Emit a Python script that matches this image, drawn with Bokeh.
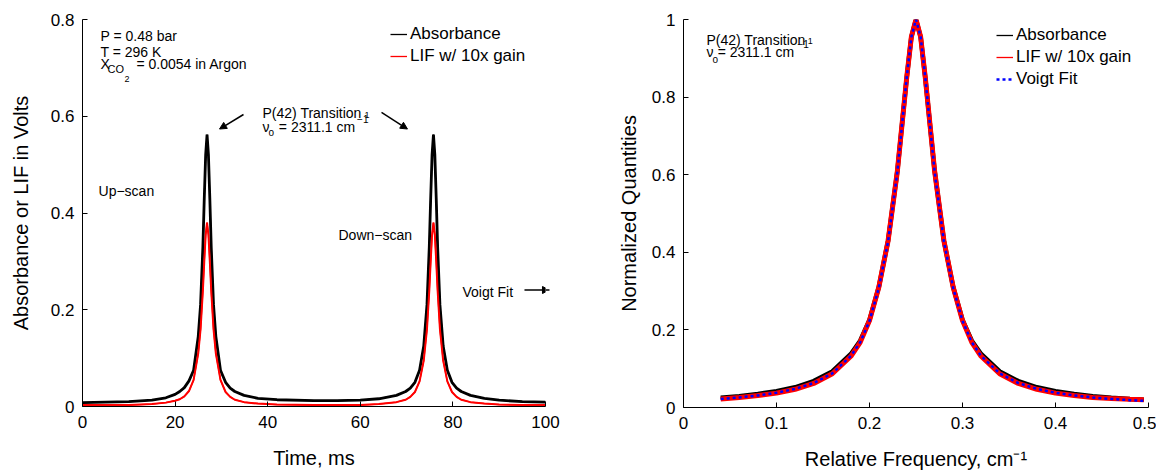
from bokeh.plotting import figure
from bokeh.models import (Range1d, FixedTicker, Label, Arrow, NormalHead, Legend,
                          LegendItem, CustomJSTickFormatter)
from bokeh.layouts import row
from bokeh.embed import file_html
from bokeh.resources import INLINE

FONT = "Liberation Sans"

# ---------------- Left panel data (time trace) ----------------
TIME_MS = [0, 5, 10, 15, 18, 20, 21, 22, 23, 24,
           25, 25.5, 26, 26.3, 26.6, 26.9, 27.2, 27.5, 27.8, 28.3,
           28.8, 29.8, 30.9, 31.9, 32.9, 34.9, 37.9, 42, 50, 55,
           60, 64, 67.8, 69.8, 70.8, 71.8, 72.8, 73.7, 74.4, 74.9,
           75.2, 75.5, 75.8, 76.1, 76.4, 76.7, 77.2, 77.9, 78.8, 79.8,
           80.8, 81.8, 83.8, 86.8, 90, 95, 100]
ABSORBANCE = [0.008, 0.009, 0.010, 0.013, 0.018, 0.025, 0.031, 0.039, 0.053, 0.075,
              0.145, 0.21, 0.33, 0.43, 0.52, 0.562, 0.52, 0.43, 0.33, 0.21,
              0.145, 0.075, 0.05, 0.038, 0.031, 0.023, 0.017, 0.014, 0.012, 0.012,
              0.013, 0.016, 0.023, 0.031, 0.038, 0.05, 0.075, 0.125, 0.21, 0.33,
              0.43, 0.52, 0.562, 0.52, 0.43, 0.33, 0.21, 0.125, 0.075, 0.05,
              0.038, 0.031, 0.023, 0.017, 0.013, 0.010, 0.009]
LIF_10X = [0.003, 0.003, 0.003, 0.005, 0.008, 0.012, 0.015, 0.021, 0.032, 0.055,
           0.11, 0.16, 0.24, 0.30, 0.355, 0.38, 0.355, 0.30, 0.24, 0.16,
           0.11, 0.055, 0.030, 0.020, 0.014, 0.009, 0.006, 0.004, 0.003, 0.003,
           0.003, 0.005, 0.009, 0.014, 0.020, 0.030, 0.052, 0.095, 0.16, 0.24,
           0.30, 0.355, 0.38, 0.355, 0.30, 0.24, 0.16, 0.095, 0.052, 0.030,
           0.020, 0.014, 0.009, 0.006, 0.004, 0.003, 0.003]

# ---------------- Right panel data (normalized) ----------------
REL_FREQ = [0.04, 0.06, 0.08, 0.10, 0.12, 0.14, 0.16, 0.18, 0.19, 0.20,
            0.21, 0.22, 0.23, 0.24, 0.245, 0.25, 0.255, 0.26, 0.27, 0.28,
            0.29, 0.30, 0.31, 0.32, 0.34, 0.36, 0.38, 0.40, 0.42, 0.44,
            0.46, 0.48, 0.495]
ABS_NORM = [0.025, 0.029, 0.035, 0.042, 0.052, 0.068, 0.093, 0.138, 0.172, 0.226,
            0.31, 0.43, 0.61, 0.85, 0.955, 1.0, 0.955, 0.85, 0.61, 0.43,
            0.31, 0.226, 0.172, 0.138, 0.093, 0.068, 0.052, 0.042, 0.035, 0.029,
            0.025, 0.022, 0.020]
LIF_NORM = [0.022, 0.026, 0.031, 0.037, 0.047, 0.062, 0.087, 0.132, 0.168, 0.224,
            0.31, 0.43, 0.61, 0.85, 0.955, 1.0, 0.955, 0.85, 0.61, 0.43,
            0.31, 0.224, 0.168, 0.132, 0.087, 0.062, 0.047, 0.037, 0.031, 0.026,
            0.023, 0.021, 0.020]
VOIGT_FIT = [0.022, 0.026, 0.031, 0.038, 0.048, 0.063, 0.088, 0.133, 0.168, 0.223,
             0.308, 0.428, 0.608, 0.85, 0.955, 1.0, 0.955, 0.85, 0.608, 0.428,
             0.308, 0.223, 0.168, 0.133, 0.088, 0.063, 0.048, 0.038, 0.031, 0.026,
             0.022, 0.019, 0.017]

LEFT_XTICKS = [0, 20, 40, 60, 80, 100]
LEFT_YTICKS = [0, 0.2, 0.4, 0.6, 0.8]
RIGHT_XTICKS = [0, 0.1, 0.2, 0.3, 0.4, 0.5]
RIGHT_YTICKS = [0, 0.2, 0.4, 0.6, 0.8, 1]

FMT = "return String(tick)"


def style(p, xticks, yticks, xlabel, ylabel, ystandoff):
    p.outline_line_color = None
    p.xgrid.visible = False
    p.ygrid.visible = False
    p.background_fill_color = "white"
    p.border_fill_color = "white"
    p.xaxis.ticker = FixedTicker(ticks=xticks)
    p.yaxis.ticker = FixedTicker(ticks=yticks)
    p.xaxis.axis_label = xlabel
    p.yaxis.axis_label = ylabel
    for ax in (p.xaxis[0], p.yaxis[0]):
        ax.formatter = CustomJSTickFormatter(code=FMT)
        ax.major_tick_in = 5
        ax.major_tick_out = 0
        ax.minor_tick_line_color = None
        ax.axis_line_color = "black"
        ax.major_tick_line_color = "black"
        ax.major_label_text_font = FONT
        ax.major_label_text_font_size = "17px"
        ax.major_label_text_color = "black"
        ax.axis_label_text_font = FONT
        ax.axis_label_text_font_size = "20px"
        ax.axis_label_text_font_style = "normal"
        ax.axis_label_text_color = "black"
    p.xaxis.major_label_standoff = 9
    p.xaxis.axis_label_standoff = 16
    p.yaxis.major_label_standoff = 8
    p.yaxis.axis_label_standoff = ystandoff


def txt(p, x, y, s, size="14px"):
    p.add_layout(Label(x=x, y=y, text=s, text_font=FONT, text_font_size=size,
                       text_baseline="alphabetic", text_align="left",
                       text_color="black"))


def arrow(p, x0, y0, x1, y1):
    p.add_layout(Arrow(end=NormalHead(size=7, fill_color="black", line_color="black"),
                       x_start=x0, y_start=y0, x_end=x1, y_end=y1,
                       line_color="black", line_width=1.5))


def legend(p, items, x, y):
    lg = Legend(items=items, location=(x, y), label_text_font=FONT,
                label_text_font_size="17px", label_text_color="black",
                glyph_width=17, glyph_height=22, label_height=22,
                label_standoff=3, spacing=0, padding=0, margin=0,
                border_line_color=None, background_fill_alpha=0)
    p.add_layout(lg)


# ---------------- Left figure ----------------
p1 = figure(frame_width=463, frame_height=387, x_range=Range1d(0, 100),
            y_range=Range1d(0, 0.8), output_backend="svg", toolbar_location=None,
            min_border_left=82, min_border_right=35, min_border_top=19,
            min_border_bottom=53)
style(p1, LEFT_XTICKS, LEFT_YTICKS, "Time, ms", "Absorbance or LIF in Volts", 16)
# thin copies (hidden beneath the thick traces) serve as legend glyphs
lk1 = p1.line(TIME_MS, ABSORBANCE, line_color="black", line_width=1.3)
lr1 = p1.line(TIME_MS, LIF_10X, line_color="#ff0000", line_width=1.3)
p1.line(TIME_MS, ABSORBANCE, line_color="black", line_width=2.8)
p1.line(TIME_MS, LIF_10X, line_color="#ff0000", line_width=2)

legend(p1, [LegendItem(label="Absorbance", renderers=[lk1]),
            LegendItem(label="LIF w/ 10x gain", renderers=[lr1])], 308, 339)

txt(p1, 3.89, 0.765, "P = 0.48 bar")
txt(p1, 3.89, 0.7318, "T = 296 K")
txt(p1, 3.89, 0.709, "X")
txt(p1, 5.4, 0.6987, "CO", "11px")
txt(p1, 9.07, 0.678, "2", "9px")
txt(p1, 11.66, 0.709, "= 0.0054 in Argon")
txt(p1, 38.88, 0.6057, "P(42) Transition")
txt(p1, 60.9, 0.6016, "1", "9px")
txt(p1, 38.88, 0.5788, "\u03bd")
txt(p1, 40.17, 0.5664, "o", "10px")
txt(p1, 42.4, 0.5788, "= 2311.1 cm")
txt(p1, 59.3, 0.5933, "\u22121", "10px")
txt(p1, 3.46, 0.4465, "Up\u2212scan")
txt(p1, 55.29, 0.3535, "Down\u2212scan")
txt(p1, 82.07, 0.2357, "Voigt Fit")
arrow(p1, 34.77, 0.6036, 29.59, 0.5736)
arrow(p1, 64.58, 0.6078, 70.19, 0.5736)
arrow(p1, 95.46, 0.2408, 100.86, 0.2408)

# ---------------- Right figure ----------------
p2 = figure(frame_width=465, frame_height=388, x_range=Range1d(0, 0.5),
            y_range=Range1d(0, 1), output_backend="svg", toolbar_location=None,
            min_border_left=103, min_border_right=8, min_border_top=19,
            min_border_bottom=52)
style(p2, RIGHT_XTICKS, RIGHT_YTICKS, "Relative Frequency, cm\u207b\u00b9",
      "Normalized Quantities", 9)
lk2 = p2.line(REL_FREQ, ABS_NORM, line_color="black", line_width=1.3)
lr2 = p2.line(REL_FREQ, LIF_NORM, line_color="#ff0000", line_width=1.3)
p2.line(REL_FREQ, ABS_NORM, line_color="black", line_width=4.5)
p2.line(REL_FREQ, LIF_NORM, line_color="#ff0000", line_width=5)
lb2 = p2.line(REL_FREQ, VOIGT_FIT, line_color="#0000ff", line_width=2.5, line_dash="3 3")

legend(p2, [LegendItem(label="Absorbance", renderers=[lk2]),
            LegendItem(label="LIF w/ 10x gain", renderers=[lr2]),
            LegendItem(label="Voigt Fit", renderers=[lb2])], 313, 317)

txt(p2, 0.02473, 0.9459, "P(42) Transition")
txt(p2, 0.1335, 0.9433, "1", "9px")
txt(p2, 0.02473, 0.9175, "\u03bd")
txt(p2, 0.03118, 0.8969, "o", "10px")
txt(p2, 0.0368, 0.9175, "= 2311.1 cm")
txt(p2, 0.1225, 0.9356, "\u22121", "10px")

layout = row(p1, p2)
open("out.html", "w").write(file_html(layout, INLINE))
